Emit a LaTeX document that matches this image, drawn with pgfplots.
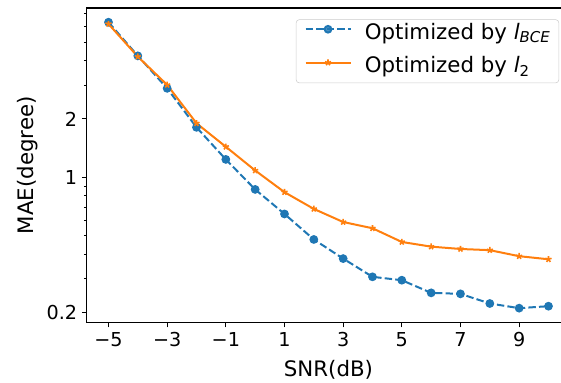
\documentclass[border=0pt]{standalone}
\usepackage{fontspec}
\setmainfont{DejaVu Sans}
\usepackage{pgfplots}
\pgfplotsset{compat=1.18}
\definecolor{c0}{HTML}{1F77B4}
\definecolor{c1}{HTML}{FF7F0E}
\begin{document}
\begin{tikzpicture}
\begin{semilogyaxis}[
  scale only axis, width=363pt, height=236pt,
  xmin=-5.75, xmax=10.75, ymin=0.1767, ymax=7.50,
  xtick={-5,-3,-1,1,3,5,7,9}, xticklabels={−5,−3,−1,1,3,5,7,9},
  ytick={0.2,1,2}, yticklabels={0.2,1,2},
  minor ytick={0.3,0.4,0.5,0.6,0.7,0.8,0.9,3,4,5,6,7},
  xtick pos=left, ytick pos=left, tick align=outside,
  major tick length=3.5pt, minor tick length=2pt,
  tick style={black, line width=0.8pt},
  minor tick style={black, line width=0.6pt},
  axis line style={line width=0.8pt},
  tick label style={font=\fontsize{14.4}{17}\selectfont},
  label style={font=\fontsize{16}{19}\selectfont},
  xlabel={SNR(dB)}, ylabel={MAE(degree)},
  xlabel style={at={(axis description cs:0.5,0)}, anchor=base, yshift=-40.7pt},
  ylabel style={at={([xshift=-39.9pt]axis description cs:0,0.5)}, anchor=base},
  legend image code/.code={\draw[mark repeat=2,mark phase=2,#1] plot coordinates {(0pt,4pt) (16.875pt,4pt) (33.75pt,4pt)};},
  legend style={at={(1,1)}, anchor=north east, xshift=-8.5pt, yshift=-8.5pt,
    draw=black!20, rounded corners=2.5pt, fill=white, fill opacity=0.8, text opacity=1,
    font=\fontsize{16}{19}\selectfont, cells={anchor=west},
    nodes={inner sep=0pt, text height=11.5pt, text depth=4.5pt},
    row sep=9pt, column sep=10pt, inner xsep=6.3pt, inner ysep=3.25pt},
]
\addplot[c0, line width=1.5pt, dash pattern=on 5.55pt off 2.4pt, mark=*, mark size=2.5pt, mark options={solid}] coordinates {
(-5,6.33)(-4,4.24)(-3,2.88)(-2,1.81)(-1,1.235)(0,0.864)(1,0.645)(2,0.476)(3,0.379)(4,0.305)(5,0.293)(6,0.252)(7,0.249)(8,0.222)(9,0.210)(10,0.215)};
\addlegendentry{Optimized by \textit{l}\textsubscript{\textit{BCE}}}
\addplot[c1, line width=1.5pt, mark=star, mark size=2.4pt, mark options={solid, line width=1.2pt}] coordinates {
(-5,6.2)(-4,4.2)(-3,3.0)(-2,1.90)(-1,1.436)(0,1.083)(1,0.836)(2,0.685)(3,0.586)(4,0.544)(5,0.462)(6,0.437)(7,0.425)(8,0.419)(9,0.390)(10,0.376)};
\addlegendentry{Optimized by \textit{l}\textsubscript{2}}
\coordinate (bl) at (rel axis cs:0,0);
\coordinate (tl) at (rel axis cs:0,1);
\end{semilogyaxis}
\pgfresetboundingbox
\path ([xshift=-64.875pt,yshift=-45.2pt]bl) rectangle ([xshift=355.9pt,yshift=6pt]tl);
\end{tikzpicture}
\end{document}
